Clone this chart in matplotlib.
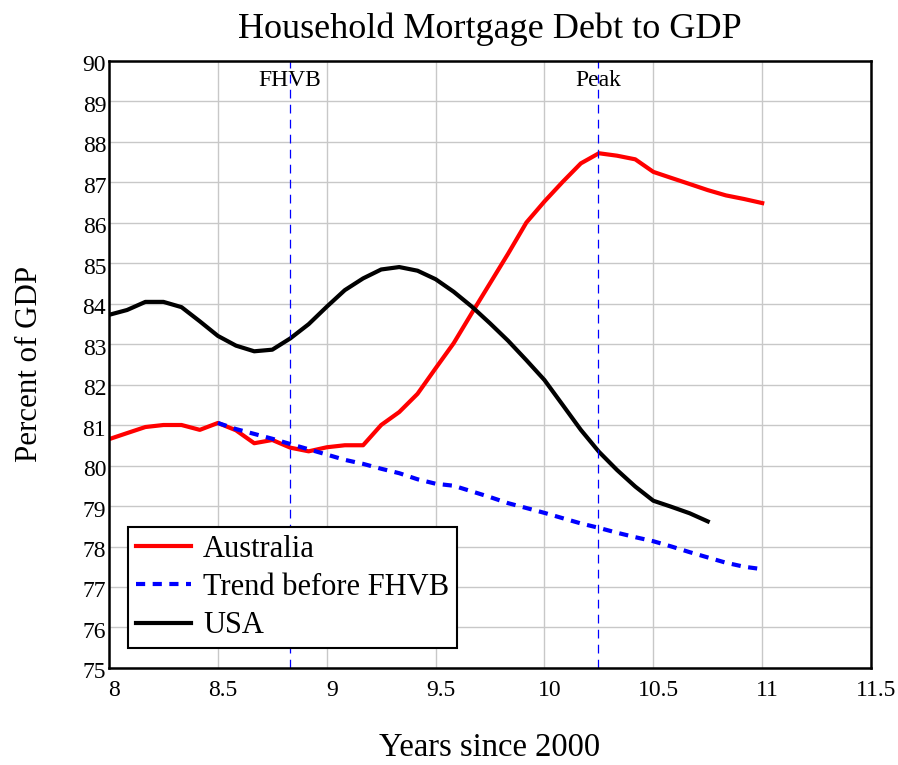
import numpy as np
import matplotlib
matplotlib.use("Agg")
import matplotlib.pyplot as plt
from matplotlib.transforms import ScaledTranslation

plt.rcParams['font.family'] = ['Liberation Serif', 'DejaVu Serif']

# monthly observations, years since 2000
aus_x = [8.0, 8.083, 8.167, 8.25, 8.333, 8.417, 8.5, 8.583, 8.667, 8.75, 8.833,
         8.917, 9.0, 9.083, 9.167, 9.25, 9.333, 9.417, 9.5, 9.583, 9.667, 9.75,
         9.833, 9.917, 10.0, 10.083, 10.167, 10.25, 10.333, 10.417, 10.5, 10.583,
         10.667, 10.75, 10.833, 10.917, 11.0]
aus_y = [80.65, 80.8, 80.95, 81.0, 81.0, 80.88, 81.05, 80.87, 80.55, 80.63, 80.44,
         80.35, 80.45, 80.5, 80.5, 81.0, 81.32, 81.77, 82.4, 83.02, 83.77, 84.5,
         85.23, 86.0, 86.52, 87.0, 87.46, 87.71, 87.65, 87.56, 87.25, 87.1,
         86.95, 86.8, 86.67, 86.58, 86.48]

usa_x = [8.0, 8.083, 8.167, 8.25, 8.333, 8.417, 8.5, 8.583, 8.667, 8.75, 8.833,
         8.917, 9.0, 9.083, 9.167, 9.25, 9.333, 9.417, 9.5, 9.583, 9.667, 9.75,
         9.833, 9.917, 10.0, 10.083, 10.167, 10.25, 10.333, 10.417, 10.5, 10.583,
         10.667, 10.75]
usa_y = [83.72, 83.84, 84.04, 84.04, 83.91, 83.56, 83.2, 82.96, 82.82, 82.86, 83.14,
         83.49, 83.92, 84.33, 84.62, 84.84, 84.9, 84.81, 84.6, 84.29, 83.92, 83.51,
         83.08, 82.6, 82.11, 81.5, 80.88, 80.34, 79.89, 79.48, 79.13, 78.98,
         78.82, 78.62]

trend_x = [8.5, 8.583, 8.667, 8.75, 8.833, 8.917, 9.0, 9.083, 9.167, 9.25, 9.333,
           9.417, 9.5, 9.583, 9.667, 9.75, 9.833, 9.917, 10.0, 10.083, 10.167,
           10.25, 10.333, 10.417, 10.5, 10.583, 10.667, 10.75, 10.833, 10.917, 11.0]
trend_y = [81.05, 80.9, 80.78, 80.66, 80.53, 80.4, 80.27, 80.14, 80.04, 79.92, 79.81,
           79.66, 79.55, 79.5, 79.36, 79.22, 79.07, 78.95, 78.83, 78.7, 78.57,
           78.46, 78.34, 78.23, 78.13, 78.0, 77.86, 77.73, 77.6, 77.5, 77.44]

events = {"FHVB": 8.83, "Peak": 10.246}

fig = plt.figure(figsize=(8.98, 7.65), dpi=100)
ax = fig.add_axes([0.1214, 0.1268, 0.8486, 0.7941])

ax.plot(aus_x, aus_y, color='red', lw=3, label='Australia')
ax.plot(trend_x, trend_y, color='blue', lw=3, ls=(0, (2.2, 1.8)),
        label='Trend before FHVB')
ax.plot(usa_x, usa_y, color='black', lw=3, label='USA')

for name, xv in events.items():
    ax.axvline(xv, color='blue', lw=0.9, ls=(0, (7, 5)))
    ax.text(xv, 89.5, name, ha='center', va='center', fontsize=17)

ax.set_xlim(8, 11.5)
ax.set_ylim(75, 90)
ax.set_xticks(np.arange(8, 11.51, 0.5))
ax.set_xticklabels(['8', '8.5', '9', '9.5', '10', '10.5', '11', '11.5'])
ax.set_yticks(range(75, 91))
ax.tick_params(length=0, labelsize=17)
ax.tick_params(axis='x', pad=9)
ax.tick_params(axis='y', pad=2)
# nudge tick labels a little right / down
for lab in ax.get_xticklabels():
    lab.set_transform(lab.get_transform() + ScaledTranslation(0.05, 0, fig.dpi_scale_trans))
for lab in ax.get_yticklabels():
    lab.set_transform(lab.get_transform() + ScaledTranslation(0, -0.025, fig.dpi_scale_trans))
ax.grid(color='#c8c8c8', lw=1)
ax.set_axisbelow(True)
for s in ax.spines.values():
    s.set_linewidth(1.8)

ax.set_title('Household Mortgage Debt to GDP', fontsize=26, pad=16)
ax.set_xlabel('Years since 2000', fontsize=23.5, va='center')
ax.xaxis.set_label_coords(0.5, -0.132)
ax.set_ylabel('Percent of GDP', fontsize=22.3, va='center')
ax.yaxis.set_label_coords(-0.105, 0.5)

leg = ax.legend(loc='lower left', bbox_to_anchor=(0.025, 0.033), fontsize=22,
                fancybox=False, framealpha=1, edgecolor='black',
                handlelength=1.8, borderpad=0.25, labelspacing=0.3,
                handletextpad=0.4, borderaxespad=0)
leg.get_frame().set_linewidth(1.5)

fig.savefig('out.png', dpi=100)
